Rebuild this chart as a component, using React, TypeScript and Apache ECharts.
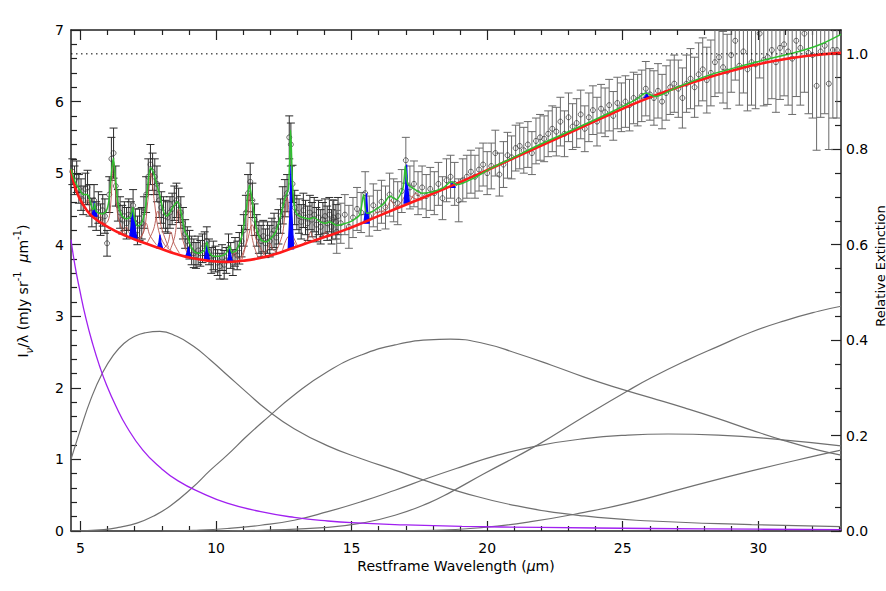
import React, { useEffect, useRef } from 'react';
import * as echarts from 'echarts';

const FONT = "'DejaVu Sans', 'Liberation Sans', sans-serif";
const X_MIN = 4.65;
const X_MAX = 33.05;
const majorTicks = [5, 10, 15, 20, 25, 30];
const minorTicks = [6, 7, 8, 9, 11, 12, 13, 14, 16, 17, 18, 19, 21, 22, 23, 24, 26, 27, 28, 29, 31, 32, 33];

// Observed spectrum [wavelength, flux, error] — short-low module
const obsSL = [
  [4.70, 5.02, 0.18], [4.78, 4.90, 0.20], [4.86, 4.95, 0.22], [4.94, 4.78, 0.20], [5.02, 4.70, 0.22],
  [5.10, 4.62, 0.20], [5.18, 4.78, 0.22], [5.26, 4.80, 0.24], [5.34, 4.62, 0.22], [5.42, 4.45, 0.20],
  [5.50, 4.62, 0.22], [5.58, 4.40, 0.20], [5.66, 4.52, 0.22], [5.74, 4.35, 0.22], [5.82, 4.48, 0.22],
  [5.90, 4.40, 0.24], [5.98, 4.02, 0.18], [6.06, 4.70, 0.25], [6.14, 5.20, 0.30], [6.22, 5.28, 0.35],
  [6.30, 4.82, 0.28], [6.38, 4.55, 0.22], [6.46, 4.45, 0.22], [6.54, 4.35, 0.20], [6.62, 4.40, 0.20],
  [6.70, 4.30, 0.22], [6.78, 4.42, 0.22], [6.86, 4.40, 0.20], [6.94, 4.55, 0.22], [7.02, 4.30, 0.20],
  [7.10, 4.20, 0.20], [7.18, 4.28, 0.22], [7.26, 4.30, 0.22], [7.34, 4.45, 0.22], [7.42, 4.70, 0.25],
  [7.50, 4.95, 0.25], [7.58, 5.12, 0.28], [7.66, 5.02, 0.26], [7.74, 4.95, 0.25], [7.82, 4.85, 0.25],
  [7.90, 4.62, 0.24], [7.98, 4.52, 0.22], [8.06, 4.45, 0.22], [8.14, 4.40, 0.22], [8.22, 4.38, 0.22],
  [8.30, 4.45, 0.22], [8.38, 4.50, 0.22], [8.46, 4.58, 0.24], [8.54, 4.62, 0.24], [8.62, 4.55, 0.24],
  [8.70, 4.45, 0.22], [8.78, 4.30, 0.22], [8.86, 4.15, 0.20], [8.94, 4.05, 0.20], [9.02, 4.00, 0.20],
  [9.10, 3.92, 0.20], [9.18, 3.88, 0.20], [9.26, 3.85, 0.18], [9.34, 3.92, 0.20], [9.42, 3.88, 0.18],
  [9.50, 3.95, 0.20], [9.58, 3.98, 0.20], [9.66, 4.05, 0.20], [9.74, 3.90, 0.18], [9.82, 3.78, 0.18],
  [9.90, 3.85, 0.20], [9.98, 3.80, 0.18], [10.06, 3.75, 0.18], [10.14, 3.70, 0.18], [10.22, 3.82, 0.18],
  [10.30, 3.72, 0.20], [10.38, 3.78, 0.18], [10.46, 3.95, 0.20], [10.54, 3.85, 0.18], [10.62, 3.75, 0.18],
  [10.70, 3.90, 0.20], [10.78, 3.85, 0.20], [10.86, 3.95, 0.22], [10.94, 4.05, 0.22], [11.02, 4.20, 0.22],
  [11.10, 4.45, 0.24], [11.18, 4.72, 0.26], [11.26, 4.88, 0.26], [11.34, 4.62, 0.24], [11.42, 4.35, 0.22],
  [11.50, 4.20, 0.22], [11.58, 4.10, 0.22], [11.66, 4.05, 0.22], [11.74, 4.12, 0.22], [11.82, 4.02, 0.20],
  [11.90, 4.10, 0.22], [11.98, 4.05, 0.22], [12.06, 4.15, 0.22], [12.14, 4.20, 0.24], [12.22, 4.10, 0.22],
  [12.30, 4.25, 0.24], [12.38, 4.40, 0.24], [12.46, 4.55, 0.26], [12.54, 4.65, 0.26], [12.62, 4.72, 0.26],
  [12.70, 5.50, 0.30], [12.76, 5.40, 0.30], [12.82, 4.85, 0.26], [12.90, 4.52, 0.24], [12.98, 4.45, 0.24],
  [13.06, 4.40, 0.24], [13.14, 4.32, 0.24], [13.22, 4.48, 0.24], [13.30, 4.38, 0.24], [13.38, 4.30, 0.24],
  [13.46, 4.45, 0.24], [13.54, 4.35, 0.24], [13.62, 4.42, 0.24], [13.70, 4.28, 0.24], [13.78, 4.38, 0.24],
  [13.86, 4.25, 0.24], [13.94, 4.35, 0.24], [14.02, 4.40, 0.24], [14.10, 4.30, 0.24], [14.18, 4.42, 0.24],
  [14.26, 4.25, 0.24], [14.34, 4.38, 0.24], [14.42, 4.32, 0.24], [14.50, 4.40, 0.26],
];

// Observed spectrum [wavelength, flux, error] — long-low module
const obsLL = [
  [14.30, 4.35, 0.28], [14.45, 4.18, 0.30], [14.60, 4.30, 0.28], [14.75, 4.42, 0.28], [14.90, 4.25, 0.30],
  [15.05, 4.38, 0.28], [15.20, 4.50, 0.30], [15.35, 4.45, 0.28], [15.50, 4.72, 0.30], [15.65, 4.40, 0.28],
  [15.80, 4.55, 0.30], [15.95, 4.48, 0.28], [16.10, 4.60, 0.30], [16.25, 4.52, 0.30], [16.40, 4.70, 0.30],
  [16.55, 4.62, 0.30], [16.70, 4.58, 0.30], [16.85, 4.75, 0.30], [17.00, 5.18, 0.32], [17.15, 4.80, 0.30],
  [17.30, 4.85, 0.32], [17.45, 4.72, 0.30], [17.60, 4.80, 0.30], [17.75, 4.68, 0.30], [17.90, 4.78, 0.30],
  [18.05, 4.72, 0.30], [18.20, 4.85, 0.30], [18.35, 4.65, 0.30], [18.50, 4.90, 0.30], [18.65, 4.95, 0.30],
  [18.80, 4.85, 0.30], [18.95, 4.62, 0.30], [19.10, 4.90, 0.30], [19.25, 4.95, 0.30], [19.40, 5.02, 0.30],
  [19.55, 4.95, 0.30], [19.70, 5.05, 0.30], [19.85, 5.12, 0.30], [20.00, 5.00, 0.30], [20.15, 5.10, 0.32],
  [20.30, 5.28, 0.32], [20.45, 4.98, 0.30], [20.60, 5.12, 0.32], [20.75, 5.25, 0.32], [20.90, 5.22, 0.30],
  [21.05, 5.35, 0.32], [21.20, 5.38, 0.32], [21.35, 5.32, 0.32], [21.50, 5.40, 0.32], [21.65, 5.28, 0.30],
  [21.80, 5.45, 0.32], [21.95, 5.50, 0.32], [22.10, 5.48, 0.32], [22.25, 5.55, 0.32], [22.40, 5.62, 0.32],
  [22.55, 5.58, 0.34], [22.70, 5.72, 0.34], [22.85, 5.55, 0.32], [23.00, 5.78, 0.34], [23.15, 5.65, 0.32],
  [23.30, 5.70, 0.34], [23.45, 5.82, 0.34], [23.60, 5.62, 0.32], [23.75, 5.78, 0.34], [23.90, 5.88, 0.34],
  [24.05, 5.72, 0.34], [24.20, 5.90, 0.34], [24.35, 5.85, 0.34], [24.50, 5.95, 0.36], [24.65, 5.80, 0.34],
  [24.80, 5.98, 0.36], [24.95, 5.92, 0.34], [25.10, 6.00, 0.36], [25.25, 5.95, 0.36], [25.40, 6.05, 0.36],
  [25.55, 6.02, 0.36], [25.70, 6.08, 0.36], [25.85, 6.18, 0.38], [26.00, 6.10, 0.36], [26.15, 6.05, 0.38],
  [26.30, 6.15, 0.38], [26.45, 6.00, 0.38], [26.60, 6.12, 0.38], [26.75, 6.20, 0.38], [26.90, 6.25, 0.40],
  [27.05, 6.18, 0.40], [27.20, 6.05, 0.42], [27.35, 6.25, 0.40], [27.50, 6.32, 0.42], [27.65, 6.20, 0.42],
  [27.80, 6.38, 0.44], [27.95, 6.45, 0.44], [28.10, 6.30, 0.46], [28.25, 6.40, 0.46], [28.40, 6.55, 0.48],
  [28.55, 6.62, 0.50], [28.70, 6.48, 0.50], [28.85, 6.42, 0.52], [29.00, 6.65, 0.52], [29.15, 6.85, 0.55],
  [29.30, 6.50, 0.55], [29.45, 6.70, 0.58], [29.60, 6.45, 0.58], [29.75, 6.55, 0.60], [29.90, 6.52, 0.62],
  [30.05, 6.95, 0.62], [30.20, 6.58, 0.64], [30.35, 6.62, 0.66], [30.50, 6.72, 0.68], [30.65, 6.55, 0.70],
  [30.80, 6.75, 0.72], [30.95, 6.80, 0.72], [31.10, 6.70, 0.75], [31.25, 6.60, 0.78], [31.40, 6.85, 0.78],
  [31.55, 6.75, 0.80], [31.70, 6.95, 0.82], [31.85, 6.68, 0.85], [32.00, 6.65, 0.88], [32.15, 6.22, 0.90],
  [32.30, 6.70, 0.92], [32.45, 6.78, 0.95], [32.60, 6.25, 0.92], [32.75, 6.72, 0.95], [32.90, 6.72, 0.95],
];

// Total model fit (green)
const fitTotal = [
  [4.65, 5.06], [4.8, 4.88], [4.95, 4.78], [5.1, 4.70], [5.22, 4.70], [5.3, 4.68], [5.42, 4.52], [5.48, 4.49],
  [5.52, 4.58], [5.57, 4.47], [5.7, 4.44], [5.8, 4.43], [5.95, 4.47], [6.05, 4.62], [6.13, 4.95], [6.21, 5.21],
  [6.29, 4.92], [6.39, 4.56], [6.52, 4.41], [6.7, 4.36], [6.86, 4.40], [6.93, 4.52], [7.0, 4.36], [7.1, 4.26],
  [7.25, 4.30], [7.38, 4.48], [7.48, 4.82], [7.58, 5.08], [7.68, 5.02], [7.8, 4.86], [7.92, 4.70], [8.05, 4.48],
  [8.17, 4.40], [8.3, 4.45], [8.45, 4.55], [8.58, 4.60], [8.72, 4.43], [8.85, 4.18], [8.95, 4.12], [9.05, 4.0],
  [9.2, 3.9], [9.4, 3.88], [9.58, 3.93], [9.66, 4.04], [9.74, 3.9], [9.9, 3.84], [10.15, 3.84], [10.38, 3.88],
  [10.5, 3.98], [10.58, 3.89], [10.75, 3.92], [10.95, 4.12], [11.1, 4.45], [11.23, 4.83], [11.34, 4.6],
  [11.48, 4.24], [11.65, 4.07], [11.85, 4.04], [12.0, 4.08], [12.2, 4.18], [12.38, 4.40], [12.55, 4.66],
  [12.67, 4.78], [12.75, 5.6], [12.82, 4.85], [12.9, 4.50], [13.0, 4.42], [13.2, 4.38], [13.45, 4.36],
  [13.6, 4.38], [13.85, 4.32], [14.05, 4.30], [14.2, 4.32], [14.45, 4.27], [14.7, 4.29], [15.0, 4.33],
  [15.3, 4.42], [15.44, 4.70], [15.55, 4.44], [15.75, 4.46], [16.0, 4.52], [16.2, 4.58], [16.41, 4.68],
  [16.65, 4.63], [16.9, 4.80], [16.98, 5.10], [17.07, 4.85], [17.3, 4.78], [17.6, 4.72], [18.0, 4.74],
  [18.4, 4.80], [18.66, 4.88], [18.9, 4.84], [19.5, 4.93], [20.2, 5.08], [20.86, 5.2], [22.0, 5.41],
  [23.3, 5.63], [24.5, 5.84], [25.5, 6.03], [25.85, 6.12], [26.2, 6.07], [27.0, 6.2], [28.19, 6.37],
  [29.4, 6.5], [30.63, 6.62], [31.5, 6.70], [32.3, 6.80], [33.05, 6.94],
];

// Total continuum (red)
const fitContinuum = [
  [4.65, 5.05], [4.8, 4.80], [4.99, 4.63], [5.2, 4.50], [5.48, 4.38], [6.05, 4.24], [6.70, 4.12], [7.31, 4.03],
  [7.92, 3.95], [8.53, 3.87], [9.14, 3.81], [9.75, 3.775], [10.36, 3.76], [10.97, 3.775], [11.58, 3.81],
  [12.19, 3.87], [12.8, 3.95], [13.41, 4.03], [14.03, 4.11], [14.63, 4.19], [15.24, 4.28], [15.98, 4.40],
  [17.2, 4.59], [18.42, 4.78], [19.64, 4.98], [20.86, 5.19], [22.08, 5.40], [23.3, 5.61], [24.52, 5.82],
  [25.75, 6.02], [26.97, 6.19], [28.19, 6.34], [29.41, 6.47], [30.63, 6.57], [31.85, 6.64], [33.05, 6.68],
];

// Stellar continuum (purple)
const stellar = [
  [4.65, 4.07], [4.8, 3.70], [4.96, 3.39], [5.2, 2.97], [5.46, 2.60], [5.7, 2.31], [5.95, 2.05], [6.3, 1.75],
  [6.7, 1.46], [7.3, 1.13], [7.93, 0.89], [8.6, 0.70], [9.42, 0.54], [10.41, 0.39], [11.65, 0.27],
  [12.88, 0.19], [14.12, 0.14], [15.36, 0.11], [16.6, 0.09], [19.07, 0.065], [22.0, 0.05], [26.0, 0.035],
  [30.0, 0.025], [33.05, 0.02],
];

// Thermal dust continuum components (gray)
const dustA = [
  [4.65, 1.0], [5.0, 1.42], [5.4, 1.86], [5.8, 2.20], [6.2, 2.45], [6.6, 2.62], [7.0, 2.72], [7.4, 2.77],
  [7.93, 2.79], [8.55, 2.72], [9.17, 2.58], [9.79, 2.39], [10.41, 2.18], [11.15, 1.93], [11.89, 1.69],
  [12.88, 1.43], [14.12, 1.19], [15.36, 1.01], [16.6, 0.85], [17.83, 0.69], [19.07, 0.54], [21.11, 0.35],
  [23.58, 0.21], [26.05, 0.14], [29.75, 0.09], [33.05, 0.06],
];
const dustB = [
  [4.65, 0.0], [5.86, 0.02], [6.47, 0.055], [7.08, 0.11], [7.7, 0.21], [8.31, 0.35], [9.11, 0.60],
  [9.79, 0.85], [10.41, 1.06], [11.15, 1.33], [11.89, 1.58], [12.88, 1.90], [14.12, 2.23],
  [15.36, 2.46], [16.6, 2.60], [17.83, 2.67], [18.64, 2.68], [19.88, 2.62], [21.11, 2.48], [22.35, 2.32],
  [23.58, 2.15], [24.8, 2.00], [26.05, 1.86], [27.28, 1.72], [28.52, 1.57], [29.75, 1.41], [30.99, 1.26],
  [32.22, 1.13], [33.05, 1.06],
];
const dustC = [
  [8.0, 0.0], [9.17, 0.01], [10.41, 0.035], [11.65, 0.08], [12.88, 0.15], [14.12, 0.27], [15.36, 0.41],
  [16.6, 0.57], [17.83, 0.74], [19.07, 0.90], [20.3, 1.05], [21.85, 1.19], [23.58, 1.29], [25.19, 1.34],
  [26.67, 1.355], [28.52, 1.34], [30.99, 1.27], [33.05, 1.19],
];
const dustD = [
  [15.0, 0.0], [18.0, 0.01], [19.88, 0.05], [21.61, 0.13], [23.58, 0.26], [25.19, 0.39], [27.28, 0.60],
  [29.75, 0.84], [32.22, 1.06], [33.05, 1.13],
];
const dustE = [
  [10.5, 0.0], [11.65, 0.01], [14.12, 0.05], [15.36, 0.11], [16.6, 0.22], [17.83, 0.39], [18.64, 0.54],
  [19.88, 0.80], [21.85, 1.20], [23.58, 1.60], [25.19, 1.96], [26.05, 2.14], [27.28, 2.37], [28.52, 2.58],
  [29.75, 2.78], [30.99, 2.94], [32.22, 3.07], [33.05, 3.14],
];

// PAH (Drude) features on top of the continuum (brown)
const pahProfiles = [
  [[4.95, 4.67], [5.1, 4.56], [5.2, 4.57], [5.27, 4.64], [5.35, 4.50], [5.5, 4.38], [5.7, 4.31]],
  [[5.45, 4.39], [5.6, 4.37], [5.7, 4.45], [5.8, 4.33], [5.95, 4.27]],
  [[5.8, 4.28], [6.0, 4.32], [6.1, 4.5], [6.16, 4.85], [6.22, 5.16], [6.28, 4.85], [6.36, 4.45], [6.5, 4.25], [6.7, 4.14]],
  [[6.4, 4.17], [6.6, 4.2], [6.69, 4.25], [6.8, 4.16], [7.0, 4.09]],
  [[7.0, 4.08], [7.25, 4.12], [7.42, 4.3], [7.55, 4.14], [7.8, 4.0]],
  [[7.15, 4.06], [7.35, 4.2], [7.48, 4.6], [7.6, 5.0], [7.72, 4.62], [7.88, 4.2], [8.1, 4.0], [8.4, 3.9]],
  [[7.45, 4.02], [7.7, 4.22], [7.85, 4.47], [8.0, 4.22], [8.25, 3.96]],
  [[8.05, 3.94], [8.22, 4.02], [8.33, 4.18], [8.45, 4.02], [8.65, 3.88]],
  [[8.3, 3.92], [8.48, 4.12], [8.61, 4.5], [8.74, 4.12], [8.95, 3.86]],
  [[10.45, 3.77], [10.6, 3.83], [10.68, 3.9], [10.78, 3.82], [10.95, 3.78]],
  [[10.95, 3.79], [11.12, 4.05], [11.23, 4.72], [11.33, 4.1], [11.55, 3.82]],
  [[10.9, 3.8], [11.15, 4.05], [11.33, 4.28], [11.5, 4.05], [11.8, 3.86]],
  [[11.7, 3.84], [11.88, 3.93], [11.99, 4.02], [12.1, 3.93], [12.3, 3.89]],
  [[12.2, 3.89], [12.45, 4.15], [12.62, 4.66], [12.77, 4.2], [13.0, 3.99]],
  [[12.45, 3.92], [12.69, 4.12], [12.95, 3.98]],
  [[13.2, 4.01], [13.38, 4.08], [13.48, 4.18], [13.6, 4.08], [13.8, 4.07]],
  [[13.8, 4.07], [13.95, 4.12], [14.04, 4.18], [14.15, 4.14], [14.4, 4.16]],
  [[15.5, 4.32], [15.75, 4.38], [15.9, 4.45], [16.1, 4.46], [16.3, 4.46]],
  [[16.1, 4.46], [16.3, 4.52], [16.45, 4.62], [16.6, 4.54], [16.8, 4.52]],
  [[16.5, 4.49], [16.8, 4.58], [17.04, 4.70], [17.3, 4.65], [17.6, 4.62]],
  [[17.15, 4.6], [17.37, 4.72], [17.6, 4.63]],
];

// Unresolved emission lines [center, continuum level, peak] (blue)
const emissionLines = [
  [5.51, 4.40, 4.60], [6.91, 4.10, 4.48], [6.98, 4.09, 4.40], [7.93, 3.95, 4.14], [8.98, 3.84, 3.97],
  [9.66, 3.78, 4.05], [10.51, 3.76, 3.95], [12.76, 3.94, 5.10], [15.55, 4.30, 4.72], [17.03, 4.58, 5.12],
  [18.71, 4.80, 4.87], [25.89, 6.05, 6.12],
];

const extinctionLevel = 1.0;

function errorBarRender(color: string) {
  return (params: any, api: any) => {
    const x = api.value(0);
    const y = api.value(1);
    const e = api.value(2);
    const cs = params.coordSys;
    const top = api.coord([x, y + e]);
    const bot = api.coord([x, y - e]);
    const yTop = Math.max(top[1], cs.y);
    const yBot = Math.min(bot[1], cs.y + cs.height);
    const cw = 4;
    const style = { stroke: color, lineWidth: 1 };
    const children: any[] = [
      { type: 'line', shape: { x1: top[0], y1: yTop, x2: bot[0], y2: yBot }, style },
    ];
    if (top[1] >= cs.y) {
      children.push({ type: 'line', shape: { x1: top[0] - cw, y1: top[1], x2: top[0] + cw, y2: top[1] }, style });
    }
    if (bot[1] <= cs.y + cs.height) {
      children.push({ type: 'line', shape: { x1: bot[0] - cw, y1: bot[1], x2: bot[0] + cw, y2: bot[1] }, style });
    }
    return { type: 'group', children };
  };
}

function lineRender(params: any, api: any) {
  const c = api.value(0);
  const base = api.value(1);
  const peak = api.value(2);
  const hw = 0.1;
  const mw = 0.035;
  const mid = base + 0.45 * (peak - base);
  const pts = [
    api.coord([c - hw, base]),
    api.coord([c - mw, mid]),
    api.coord([c, peak]),
    api.coord([c + mw, mid]),
    api.coord([c + hw, base]),
  ];
  return {
    type: 'polygon',
    shape: { points: pts },
    style: { fill: '#0000ff', stroke: '#0000ff', lineWidth: 1.2 },
  };
}

function lineSeries(data: number[][], color: string, width: number, z: number, smooth: any = 0.5) {
  return {
    type: 'line',
    xAxisIndex: 0,
    yAxisIndex: 0,
    data,
    smooth,
    showSymbol: false,
    symbol: 'none',
    lineStyle: { color, width },
    z,
    silent: true,
  };
}

export default function App() {
  const ref = useRef<HTMLDivElement>(null);

  useEffect(() => {
    if (!ref.current) return;
    const chart = echarts.init(ref.current, null, { renderer: 'svg' });
    const axisColor = '#222';
    const tickStyle = { color: axisColor, width: 1.2 };
    const labelStyle = { fontFamily: FONT, fontSize: 14, color: '#000' };

    const xCommon = { type: 'value', min: X_MIN, max: X_MAX, splitLine: { show: false } };

    const option: any = {
      animation: false,
      backgroundColor: '#fff',
      grid: { left: 71, right: 45, top: 30, bottom: 60, containLabel: false },
      xAxis: [
        {
          ...xCommon,
          position: 'bottom',
          axisLine: { show: true, onZero: false, lineStyle: { color: axisColor, width: 1.5 } },
          axisTick: { show: true, inside: true, length: 10, customValues: majorTicks, lineStyle: tickStyle },
          axisLabel: { show: true, customValues: majorTicks, margin: 10, ...labelStyle },
        },
        {
          ...xCommon,
          position: 'bottom',
          axisLine: { show: false, onZero: false },
          axisTick: { show: true, inside: true, length: 5, customValues: minorTicks, lineStyle: tickStyle },
          axisLabel: { show: false },
        },
        {
          ...xCommon,
          position: 'top',
          axisLine: { show: true, onZero: false, lineStyle: { color: axisColor, width: 1.5 } },
          axisTick: { show: true, inside: true, length: 10, customValues: majorTicks, lineStyle: tickStyle },
          axisLabel: { show: false },
        },
        {
          ...xCommon,
          position: 'top',
          axisLine: { show: false, onZero: false },
          axisTick: { show: true, inside: true, length: 5, customValues: minorTicks, lineStyle: tickStyle },
          axisLabel: { show: false },
        },
      ],
      yAxis: [
        {
          type: 'value',
          position: 'left',
          min: 0,
          max: 7,
          interval: 1,
          splitLine: { show: false },
          axisLine: { show: true, onZero: false, lineStyle: { color: axisColor, width: 1.5 } },
          axisTick: { show: true, inside: true, length: 10, lineStyle: tickStyle },
          minorTick: { show: true, splitNumber: 5, length: 6, lineStyle: tickStyle },
          axisLabel: { margin: 7, ...labelStyle },
        },
        {
          type: 'value',
          position: 'right',
          min: 0,
          max: 1.05,
          interval: 0.2,
          splitLine: { show: false },
          axisLine: { show: true, onZero: false, lineStyle: { color: axisColor, width: 1.5 } },
          axisTick: { show: true, inside: true, length: 10, lineStyle: tickStyle },
          minorTick: { show: true, splitNumber: 4, length: 6, lineStyle: tickStyle },
          axisLabel: {
            margin: 5,
            showMaxLabel: false,
            ...labelStyle,
            formatter: (v: number) => (v > 1.01 ? '' : v.toFixed(1)),
          },
        },
      ],
      graphic: [
        {
          type: 'text',
          x: 456,
          y: 566,
          silent: true,
          style: {
            text: 'Restframe Wavelength ({i|μ}m)',
            fontFamily: FONT,
            fontSize: 14,
            fill: '#000',
            align: 'center',
            verticalAlign: 'middle',
            rich: { i: { fontFamily: FONT, fontSize: 14, fontStyle: 'italic', fill: '#000' } },
          },
        },
        {
          type: 'text',
          x: 23,
          y: 291,
          rotation: Math.PI / 2,
          silent: true,
          style: {
            text: '{a|I}{s|ν}{a|/λ (mJy sr}{p|-1}{a|  }{i|μ}{a|m}{p|-1}{a|)}',
            fontFamily: FONT,
            fontSize: 14,
            fill: '#000',
            align: 'center',
            verticalAlign: 'middle',
            rich: {
              a: { fontFamily: FONT, fontSize: 14, lineHeight: 22, fill: '#000', verticalAlign: 'middle' },
              i: { fontFamily: FONT, fontSize: 14, lineHeight: 22, fontStyle: 'italic', fill: '#000', verticalAlign: 'middle' },
              p: { fontFamily: FONT, fontSize: 10, lineHeight: 12, fill: '#000', verticalAlign: 'top' },
              s: { fontFamily: FONT, fontSize: 10, lineHeight: 12, fontStyle: 'italic', fill: '#000', verticalAlign: 'bottom' },
            },
          },
        },
        {
          type: 'text',
          x: 880,
          y: 266,
          rotation: Math.PI / 2,
          silent: true,
          style: {
            text: 'Relative Extinction',
            fontFamily: FONT,
            fontSize: 13,
            fill: '#000',
            align: 'center',
            verticalAlign: 'middle',
          },
        },
      ],
      series: [
        lineSeries(dustA, '#707070', 1.2, 1),
        lineSeries(dustB, '#707070', 1.2, 1),
        lineSeries(dustC, '#707070', 1.2, 1),
        lineSeries(dustD, '#707070', 1.2, 1),
        lineSeries(dustE, '#707070', 1.2, 1),
        lineSeries(stellar, '#a020f0', 1.3, 1),
        {
          type: 'custom',
          xAxisIndex: 0,
          yAxisIndex: 0,
          data: obsSL,
          encode: { x: 0, y: 1 },
          renderItem: errorBarRender('#2b2b2b'),
          z: 2,
          silent: true,
        },
        {
          type: 'custom',
          xAxisIndex: 0,
          yAxisIndex: 0,
          data: obsLL,
          encode: { x: 0, y: 1 },
          renderItem: errorBarRender('#6a6a6a'),
          z: 2,
          silent: true,
        },
        {
          type: 'scatter',
          xAxisIndex: 0,
          yAxisIndex: 0,
          data: obsSL.concat(obsLL).map((d) => [d[0], d[1]]),
          symbol: 'circle',
          symbolSize: 5,
          itemStyle: { color: 'rgba(255,255,255,0)', borderColor: '#333', borderWidth: 0.9 },
          z: 3,
          silent: true,
        },
        ...pahProfiles.map((p) => lineSeries(p, '#b5544c', 0.9, 4, 0.35)),
        {
          type: 'custom',
          xAxisIndex: 0,
          yAxisIndex: 0,
          data: emissionLines,
          encode: { x: 0, y: [1, 2] },
          renderItem: lineRender,
          z: 5,
          silent: true,
        },
        lineSeries(fitContinuum, '#ff1a1a', 2.6, 6, 0.5),
        lineSeries(fitTotal, '#2fbf2f', 1.5, 7, 0.25),
        {
          type: 'line',
          xAxisIndex: 0,
          yAxisIndex: 1,
          data: [[X_MIN, extinctionLevel], [X_MAX, extinctionLevel]],
          showSymbol: false,
          symbol: 'none',
          lineStyle: { color: '#000', width: 1, type: [1.5, 3.5] },
          z: 8,
          silent: true,
        },
      ],
    };

    chart.setOption(option);
    return () => {
      chart.dispose();
    };
  }, []);

  return (
    <div
      ref={ref}
      style={{ position: 'fixed', left: 0, top: 0, width: 886, height: 591, background: '#fff' }}
    />
  );
}
